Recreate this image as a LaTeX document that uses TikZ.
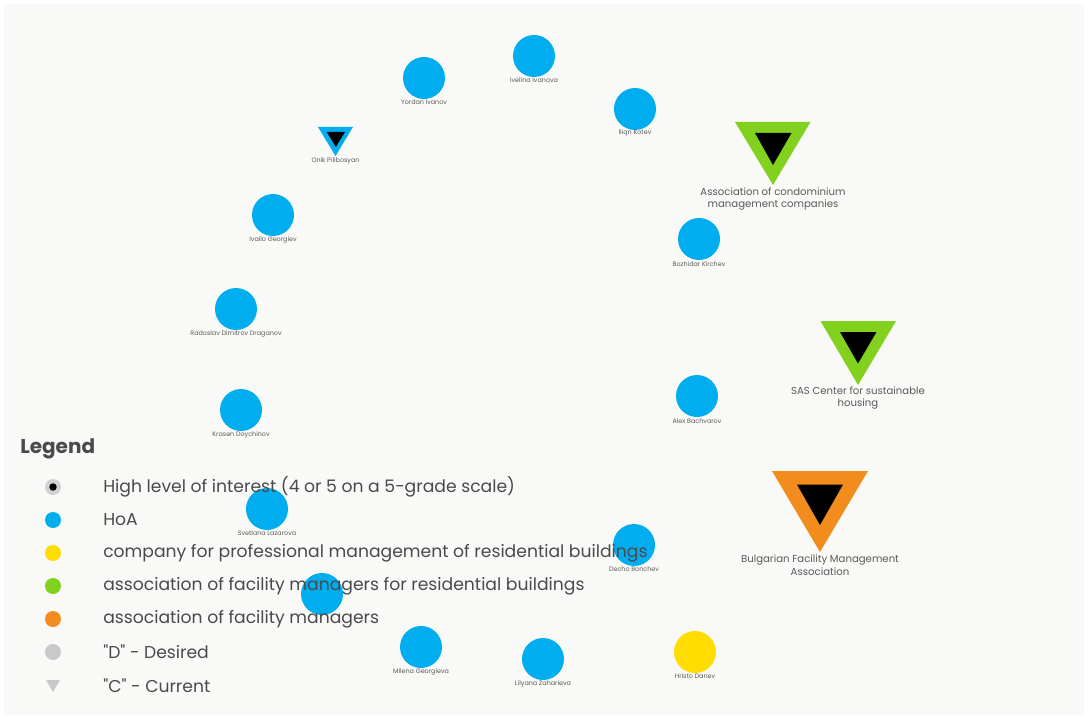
\documentclass[tikz,border=0pt]{standalone}
\usepackage{fontspec}
\setmainfont{Poppins}
\definecolor{hoa}{HTML}{00AEEF}
\definecolor{fmgreen}{HTML}{82D11E}
\definecolor{fmorange}{HTML}{F28C1C}
\definecolor{pmyellow}{HTML}{FFDD00}
\definecolor{desired}{HTML}{C9C9C9}
\definecolor{paper}{HTML}{F9F9F7}
\definecolor{ink}{HTML}{4A4A4A}
\definecolor{tag}{HTML}{5A5A5A}
\tikzset{
  person/.style={circle, fill=hoa, inner sep=0pt, minimum size=31.5pt},
  firm/.style={circle, fill=pmyellow, inner sep=0pt, minimum size=31.5pt},
  tagtext/.style={text=tag, font=\fontsize{4.8}{6}\selectfont, inner sep=0pt},
  orgname/.style={text=tag, font=\fontsize{7.6}{9.6}\selectfont, align=center, inner sep=0pt},
  keydot/.style={circle, inner sep=0pt, minimum size=12pt},
  keytext/.style={text=ink, anchor=west, font=\fontsize{12.9}{14}\selectfont, inner sep=0pt},
}
\begin{document}
\begin{tikzpicture}[x=0.75pt, y=-0.75pt]
\useasboundingbox (0,0) rectangle (1088,720);
\fill[white] (0,0) rectangle (1088,720);
\fill[paper] (4,4) rectangle (1084,715);

% ---- homeowners' associations (HoA) ----
\node[person] (ivelina) at (534,56) {};
\node[tagtext] at (534,80) {Ivelina Ivanova};
\node[person] (yordan) at (424,78) {};
\node[tagtext] at (424,102) {Yordan Ivanov};
\node[person] (iliqn) at (635,109) {};
\node[tagtext] at (635,133) {Iliqn Kotev};
\node[person] (ivailo) at (273,215) {};
\node[tagtext] at (273,240) {Ivailo Georgiev};
\node[person] (bozhidar) at (699,239) {};
\node[tagtext] at (699,264) {Bozhidar Kirchev};
\node[person] (radoslav) at (236,309) {};
\node[tagtext] at (236,334) {Radoslav Dimitrov Draganov};
\node[person] (alex) at (697,396) {};
\node[tagtext] at (697,421) {Alex Bachvarov};
\node[person] (krasen) at (241,410) {};
\node[tagtext] at (241,435) {Krasen Doychinov};
\node[person] (svetlana) at (267,509) {};
\node[tagtext] at (267,533) {Svetlana Lazarova};
\node[person] (decho) at (634,545) {};
\node[tagtext] at (634,569) {Decho Bonchev};
\node[person] (hidden) at (322,594) {};
\node[person] (milena) at (421,647) {};
\node[tagtext] at (421,672) {Milena Georgieva};
\node[person] (lilyana) at (543,659) {};
\node[tagtext] at (543,684) {Lilyana Zaharieva};

% ---- professional management company ----
\node[firm] (hristo) at (695,652) {};
\node[tagtext] at (695,676) {Hristo Danev};

% ---- current-state markers (triangles, black core = high interest) ----
\coordinate (onik) at (335.5,127);
\fill[hoa] (318,127) -- (353,127) -- (335.5,156) -- cycle;
\fill[black] (326.7,132) -- (345,132) -- (335.8,147) -- cycle;
\node[tagtext] at (335.5,161) {Onik Pilibosyan};

\coordinate (acmc) at (773,122);
\fill[fmgreen] (735,122) -- (810.5,122) -- (773,185) -- cycle;
\fill[black] (755,133) -- (791.5,133) -- (773,165) -- cycle;
\node[orgname, anchor=north] at (773,187) {Association of condominium\\management companies};

\coordinate (sas) at (858,321);
\fill[fmgreen] (820.5,321) -- (896,321) -- (858,385) -- cycle;
\fill[black] (840,332) -- (876.5,332) -- (858,363.5) -- cycle;
\node[orgname, anchor=north] at (858,386) {SAS Center for sustainable\\housing};

\coordinate (bfma) at (820,471);
\fill[fmorange] (772,471) -- (868,471) -- (820,552) -- cycle;
\fill[black] (797,484.5) -- (843,484.5) -- (820,525) -- cycle;
\node[orgname, anchor=north] at (820,555) {Bulgarian Facility Management\\Association};

% ---- legend ----
\node[text=ink, anchor=west, inner sep=0pt, font=\fontsize{15}{17}\bfseries] (legend) at (20,449) {Legend};

\node[keydot, fill=desired!85!white] (k1) at (53,487) {};
\fill[black] (k1.center) circle (2.8pt);
\node[keytext] (t1) at (103,487) {High level of interest (4 or 5 on a 5-grade scale)};
\node[keydot, fill=hoa] (k2) at (53,520) {};
\node[keytext] (t2) at (103,520) {HoA};
\node[keydot, fill=pmyellow] (k3) at (53,553) {};
\node[keytext] (t3) at (103,553) {company for professional management of residential buildings};
\node[keydot, fill=fmgreen] (k4) at (53,586) {};
\node[keytext] (t4) at (103,586) {association of facility managers for residential buildings};
\node[keydot, fill=fmorange] (k5) at (53,619) {};
\node[keytext] (t5) at (103,619) {association of facility managers};
\node[keydot, fill=desired] (k6) at (53,652) {};
\node[keytext] (t6) at (103,652) {\textquotedbl D\textquotedbl{} - Desired};
\coordinate (k7) at (53,686);
\fill[desired] (46,680) -- (60,680) -- (53,692) -- cycle;
\node[keytext] (t7) at (103,686) {\textquotedbl C\textquotedbl{} - Current};
\end{tikzpicture}
\end{document}
